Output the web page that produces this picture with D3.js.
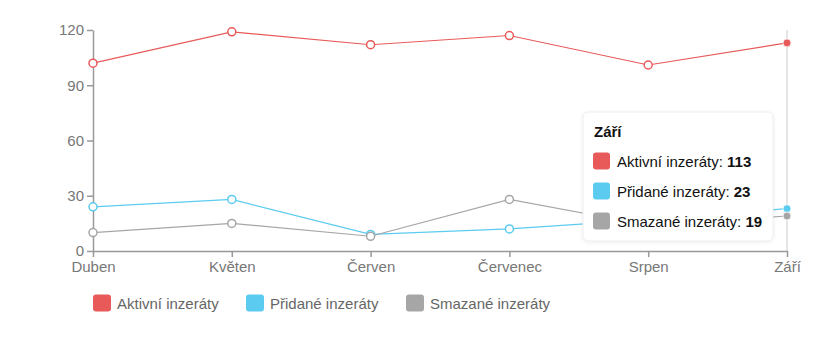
<!DOCTYPE html>
<html><head><meta charset="utf-8">
<script src="https://cdn.jsdelivr.net/npm/d3@7/dist/d3.min.js"></script>
<style>
body{margin:0;background:#fff;font-family:"Liberation Sans",Arial,sans-serif;}
svg{display:block}
</style></head><body>
<svg id="chart" width="833" height="337"></svg>
<script>
const categories = ["Duben","Květen","Červen","Červenec","Srpen","Září"];
const seriesNames = ["Aktivní inzeráty","Přidané inzeráty","Smazané inzeráty"];
const aktivni = [102,119,112,117,101,113];
const pridane = [24,28,9,12,17,23];
const smazane = [10,15,8,28,14,19];
const colors = ["#e85a5a","#5bcbf0","#a6a6a6"];
const yTicks = [0,30,60,90,120];
const tooltipTitle = "Září";
const hoverIndex = 5;

const series = [aktivni, pridane, smazane];
const svg = d3.select("#chart");
const W = 833, H = 337;
const m = {left:93, right:46, top:30, bottom:86};
const x = d3.scalePoint().domain(categories).range([m.left, W - m.right]);
const y = d3.scaleLinear().domain([0,120]).range([H - m.bottom, m.top]);

// hover line
svg.append("line")
  .attr("x1", x(categories[hoverIndex])).attr("x2", x(categories[hoverIndex]))
  .attr("y1", y(120)).attr("y2", y(0))
  .attr("stroke", "#cccccc").attr("stroke-width", 1);

// axes
const axisColor = "#999";
const gx = svg.append("g").attr("transform", `translate(0,${y(0)})`)
  .call(d3.axisBottom(x).tickSize(6).tickSizeOuter(0).tickPadding(4));
const gy = svg.append("g").attr("transform", `translate(${m.left},0)`)
  .call(d3.axisLeft(y).tickValues(yTicks).tickSize(6).tickSizeOuter(0).tickPadding(3));
[gx, gy].forEach(g => {
  g.select(".domain").attr("stroke", axisColor).attr("stroke-width", 1.5);
  g.selectAll(".tick line").attr("stroke", axisColor).attr("stroke-width", 1.5);
  g.selectAll(".tick text").attr("fill", "#777").style("font-size", "15px")
    .style("font-family", '"Liberation Sans",Arial,sans-serif');
});

// lines and points
const line = d3.line().x((d,i) => x(categories[i])).y(d => y(d));
series.forEach((s, k) => {
  svg.append("path").datum(s).attr("d", line)
    .attr("fill", "none").attr("stroke", colors[k]).attr("stroke-width", 1.2);
  svg.selectAll(null).data(s).enter().append("circle")
    .attr("cx", (d,i) => x(categories[i])).attr("cy", d => y(d))
    .attr("r", 4)
    .attr("fill", (d,i) => i === hoverIndex ? colors[k] : "#fff")
    .attr("stroke", (d,i) => i === hoverIndex ? "#fff" : colors[k])
    .attr("stroke-width", (d,i) => i === hoverIndex ? 0.8 : 1.5);
});

// tooltip
const tt = svg.append("g").attr("transform", "translate(583,112)");
tt.append("rect").attr("width", 190).attr("height", 129).attr("rx", 5)
  .attr("fill", "#fff").attr("stroke", "#eeeeee").attr("stroke-width", 1)
  .style("filter", "drop-shadow(0 1px 2px rgba(0,0,0,0.06))");
tt.append("text").attr("x", 11).attr("y", 25).text(tooltipTitle)
  .style("font-weight", "bold").style("font-size", "15px").attr("fill", "#111");
series.forEach((s, k) => {
  const cy = 49 + k * 30;
  tt.append("rect").attr("x", 10).attr("y", cy - 8.5).attr("width", 17).attr("height", 17)
    .attr("rx", 3).attr("fill", colors[k]);
  const t = tt.append("text").attr("x", 34).attr("y", cy + 5.5)
    .style("font-size", "15px").attr("fill", "#111");
  t.append("tspan").text(seriesNames[k] + ": ");
  t.append("tspan").text(s[hoverIndex]).style("font-weight", "bold");
});

// legend
const legendX = [93, 246, 406];
seriesNames.forEach((n, k) => {
  const g = svg.append("g").attr("transform", `translate(${legendX[k]},303)`);
  g.append("rect").attr("x", 0).attr("y", -8.5).attr("width", 18).attr("height", 17)
    .attr("rx", 3).attr("fill", colors[k]);
  g.append("text").attr("x", 24).attr("y", 5.5).text(n)
    .style("font-size", "15px").attr("fill", "#666");
});
</script>
</body></html>
